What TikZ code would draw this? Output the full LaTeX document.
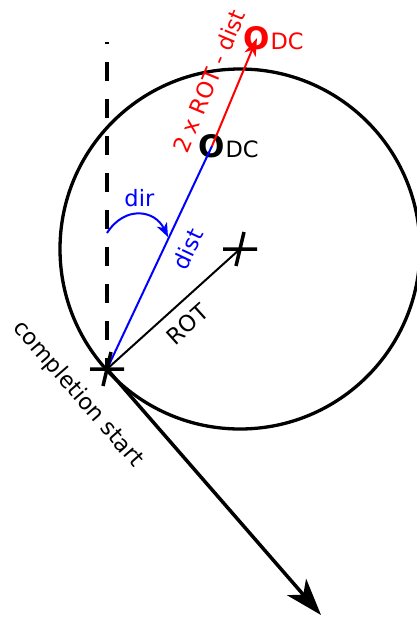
\documentclass[tikz,border=0pt]{standalone}
\usepackage{fontspec}
\setmainfont{DejaVu Sans}
\usetikzlibrary{arrows.meta}
\tikzset{
    lbl/.style={font=\fontsize{22.5}{27}\selectfont, inner sep=0pt},
    bigo/.style={font=\fontsize{31}{36}\selectfont\bfseries, inner sep=0pt},
    crossmark/.pic={\draw[line width=3.5] (-17,0) -- (17,0) (4,-17) -- (-4,17);}
}
\begin{document}
\begin{tikzpicture}[x=1pt, y=-1pt]
            \useasboundingbox (0,0) rectangle (417,619);
            \def\r{180}
            \coordinate (center) at (240,249);
            \coordinate (start) at (107,369);
            \coordinate (top) at (107,42);
            \coordinate (arrowend) at (321,615);
            \coordinate (dirstart) at (107,233);
            \coordinate (dirend) at (168,237);

            \draw[line width=3.3] (center) circle (\r);
            \draw[line width=3.3, dash pattern=on 19pt off 18pt, dash phase=17pt] (top) -- (start);

            \node[bigo] (odc) at (212,146) {O};
            \node[lbl, anchor=base west] at (odc.base east) {DC};
            \node[bigo, red] (odcnew) at (257,38) {O};
            \node[lbl, red, anchor=base west] at (odcnew.base east) {DC};

            \draw[blue, line width=2] (start) -- (odc.center)
                node[pos=0.58, sloped, below=12pt, lbl] {dist};
            \draw[red, line width=2, -{Stealth[length=18pt, width=12pt, inset=5pt]}] (odc.center) -- (odcnew.center)
                node[pos=0.5, sloped, above=18pt, lbl] {2 x ROT - dist};
            \draw[line width=2] (start) -- (center)
                node[pos=0.5, sloped, below=11pt, lbl] {ROT};
            \draw[blue, line width=2, -{Stealth[length=14pt, width=11pt, inset=4pt]}] (dirstart)
                .. controls (125,205) and (155,210) .. (dirend)
                node[pos=0.5, above=7pt, lbl] {dir};
            \draw[line width=3.5, -{Stealth[length=37pt, width=25pt, inset=10pt]}] (start) -- (arrowend)
                node[pos=0, sloped, below=26pt, lbl] {completion start};

            \pic at (start) {crossmark};
            \pic at (center) {crossmark};
        \end{tikzpicture}
\end{document}
